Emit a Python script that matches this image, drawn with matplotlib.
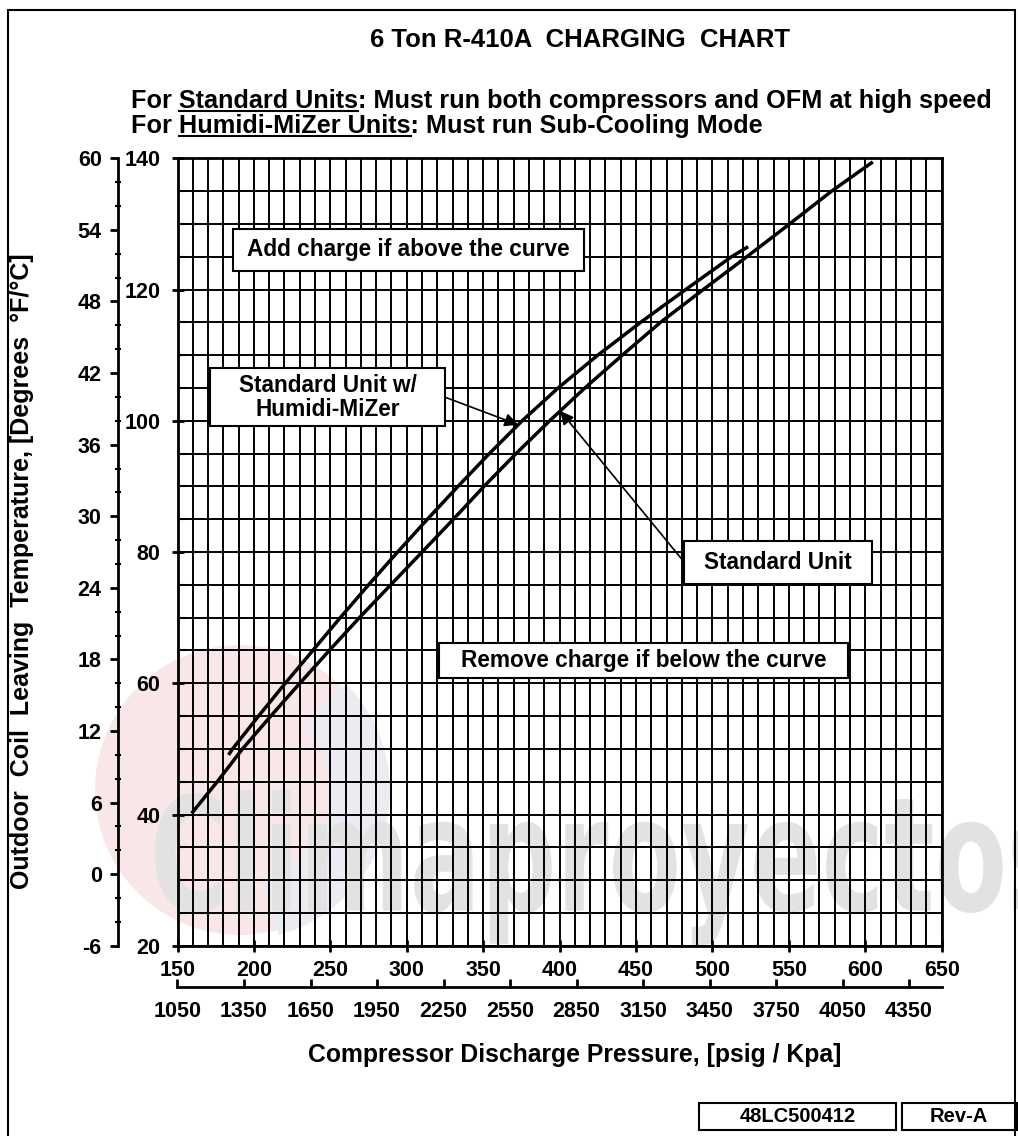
import matplotlib
matplotlib.use("Agg")
import matplotlib.pyplot as plt
import numpy as np
from matplotlib.patches import Rectangle, Circle, Wedge, PathPatch
from matplotlib.lines import Line2D
from matplotlib.textpath import TextPath
from matplotlib.font_manager import FontProperties
from matplotlib.ticker import MultipleLocator
from matplotlib.transforms import IdentityTransform, Affine2D

plt.rcParams['font.family'] = ['Liberation Sans', 'DejaVu Sans']
plt.rcParams['font.weight'] = 'bold'
plt.rcParams['axes.unicode_minus'] = False

# Standard unit curve (psig, deg F)
std_psig = [160, 176, 192.5, 211, 230, 249.3, 269, 289.5, 310, 330.5, 350.5, 371.5,
            393.5, 416.5, 441, 466, 494, 522.5, 550.5, 578, 604]
std_temp = [40.4, 45, 50, 55, 60, 65, 70, 75, 80, 85, 90, 95,
            100, 105, 110, 115, 120, 125, 130, 135, 139.3]

# Standard unit w/ Humidi-MiZer curve
hmz_psig = [184, 186, 203, 220.5, 238.5, 256.5, 275, 294, 313.5, 333.5, 354,
            375.5, 399, 425, 453, 482.5, 512.5, 522.4]
hmz_temp = [49.3, 50, 55, 60, 65, 70, 75, 80, 85, 90, 95,
            100, 105, 110, 115, 120, 125, 126.4]

psig_ticks = np.arange(150, 651, 50)
kpa_ticks = np.arange(1050, 4351, 300)
degf_ticks = np.arange(20, 141, 20)
degc_ticks = np.arange(-6, 61, 6)

W, H = 1018, 1136
fig = plt.figure(figsize=(W / 100, H / 100), dpi=100)
ident = IdentityTransform()

# faint watermark behind the chart
fig.add_artist(Circle((240, H - 790), 145, color='#f9e6e8', lw=0,
                      transform=ident, zorder=-7))
fig.add_artist(Wedge((240, H - 790), 150, -75, 45, width=60, color='#eaecf1', lw=0,
                     transform=ident, zorder=-6))
fp = FontProperties(family='DejaVu Sans', weight='bold')
tp = TextPath((0, 0), 'Climaproyectos', size=1, prop=fp)
bb = tp.get_extents()
tr = Affine2D().translate(-bb.x0, -bb.y0).scale(910 / bb.width, 155 / bb.height).translate(155, H - 945)
fig.add_artist(PathPatch(tr.transform_path(tp), color='#e2e2e2', lw=0,
                         transform=ident, zorder=-5))

# page frame
fig.add_artist(Rectangle((8, -20), 1007, H - 10 + 20, fill=False, lw=1.5,
                         ec='black', transform=ident))

# main axes (psig / deg F)
x0, x1, y0, y1 = 177.5, 941.7, 158.3, 945.8
ax = fig.add_axes([x0 / W, 1 - y1 / H, (x1 - x0) / W, (y1 - y0) / H])
ax.set_facecolor('none')
ax.set_xlim(150, 650)
ax.set_ylim(20, 140)
ax.set_xticks(psig_ticks)
ax.set_yticks(degf_ticks)
ax.xaxis.set_minor_locator(MultipleLocator(10))
ax.yaxis.set_minor_locator(MultipleLocator(5))
ax.grid(which='both', color='black', lw=1.4)
ax.set_axisbelow(True)
for s in ax.spines.values():
    s.set_linewidth(2)
ax.tick_params(which='major', direction='inout', length=9, width=2, labelsize=15.5, pad=6)
ax.tick_params(axis='y', which='major', pad=8)
ax.tick_params(which='minor', direction='in', length=6, width=1.5)
ax.tick_params(axis='x', which='minor', length=0)

ax.plot(std_psig, std_temp, color='black', lw=2.5, zorder=4)
ax.plot(hmz_psig, hmz_temp, color='black', lw=2.5, zorder=4)

# deg C axis on the far left
axc = ax.twinx()
axc.set_ylim(-6, 60)
axc.yaxis.set_ticks_position('left')
axc.yaxis.set_label_position('left')
axc.spines['left'].set_position(('axes', (118.3 - x0) / (x1 - x0)))
axc.spines['left'].set_visible(True)
axc.spines['left'].set_linewidth(2)
for s in ['right', 'top', 'bottom']:
    axc.spines[s].set_visible(False)
axc.set_yticks(degc_ticks)
axc.yaxis.set_minor_locator(MultipleLocator(2))
axc.tick_params(which='major', direction='out', length=6, width=2, labelsize=15.5, pad=6)
axc.tick_params(which='minor', direction='inout', length=5, width=1.5)

# kPa axis below
axk = ax.twiny()
axk.set_xlim(1050, 1050 + 500 * 6.895)
axk.xaxis.set_ticks_position('bottom')
axk.xaxis.set_label_position('bottom')
axk.spines['bottom'].set_position(('axes', -(987 - y1) / (y1 - y0)))
axk.spines['bottom'].set_visible(True)
axk.spines['bottom'].set_linewidth(2)
for s in ['left', 'right', 'top']:
    axk.spines[s].set_visible(False)
axk.set_xticks(kpa_ticks)
axk.tick_params(direction='in', length=6, width=2, labelsize=15.5, pad=10)


# annotation boxes
def box(xa, xb, ya, yb, lines, size=16.3):
    ax.add_patch(Rectangle((xa, ya), xb - xa, yb - ya, fc='white', ec='black',
                           lw=1.5, zorder=5))
    ax.text((xa + xb) / 2, (ya + yb) / 2, lines, ha='center', va='center',
            fontsize=size, fontweight='bold', zorder=6, linespacing=1.05)


box(186.3, 415.9, 122.9, 129.3, 'Add charge if above the curve')
box(171.3, 325.0, 99.2, 108.0, 'Standard Unit w/\nHumidi-MiZer')
box(481.4, 604.2, 75.2, 81.7, 'Standard Unit')
box(321.3, 588.9, 60.8, 66.1, 'Remove charge if below the curve')

arrow = dict(arrowstyle='-|>', color='black', lw=1.2, mutation_scale=20,
             shrinkA=0, shrinkB=0)
tip_h = 99.4
ax.annotate('', xy=(np.interp(tip_h, hmz_temp, hmz_psig), tip_h), xytext=(325.0, 103.6),
            arrowprops=arrow, zorder=6)
tip_s = 101.5
ax.annotate('', xy=(np.interp(tip_s, std_temp, std_psig), tip_s), xytext=(481.4, 78.5),
            arrowprops=arrow, zorder=6)

# titles
fig.text(580 / W, 1 - 40 / H, '6 Ton R-410A  CHARGING  CHART', ha='center',
         va='center', fontsize=18.5, fontweight='bold')

renderer = fig.canvas.get_renderer()
sub_fp = FontProperties(family=['Liberation Sans', 'DejaVu Sans'], weight='bold', size=18.2)


def measure(s):
    w, h, d = renderer.get_text_width_height_descent(s, sub_fp, ismath=False)
    return w


def underlined_line(x, y_base, pieces):
    full = ''.join(p for p, _ in pieces)
    fig.text(x / W, 1 - y_base / H, full, ha='left', va='baseline',
             fontproperties=sub_fp)
    prefix = ''
    for txt, ul in pieces:
        if ul:
            xa = x + measure(prefix + txt) - measure(txt)
            xb = x + measure(prefix + txt)
            fig.add_artist(Line2D([xa, xb], [H - y_base - 3] * 2, color='black',
                                  lw=1.5, transform=ident))
        prefix += txt


underlined_line(131, 108, [('For ', False), ('Standard Units', True),
                           (': Must run both compressors and OFM at high speed', False)])
underlined_line(131, 133, [('For ', False), ('Humidi-MiZer Units', True),
                           (': Must run Sub-Cooling Mode', False)])

fig.text(22 / W, 1 - 571 / H, 'Outdoor  Coil  Leaving  Temperature, [Degrees  \u00b0F/\u00b0C]',
         rotation=90, ha='center', va='center', fontsize=18, fontweight='bold')
fig.text(575 / W, 1 - 1055 / H, 'Compressor Discharge Pressure, [psig / Kpa]',
         ha='center', va='center', fontsize=17.8, fontweight='bold')

# drawing number boxes
for xa, xb, label in [(699.3, 896.0, '48LC500412'), (901.7, 1016.7, 'Rev-A')]:
    fig.add_artist(Rectangle((xa, H - 1130), xb - xa, 26.7, fill=False, lw=1.5,
                             ec='black', transform=ident))
    fig.text((xa + xb) / 2 / W, 1 - 1116.7 / H, label, ha='center', va='center',
             fontsize=14.5, fontweight='bold')

fig.savefig('out.png', dpi=100)
